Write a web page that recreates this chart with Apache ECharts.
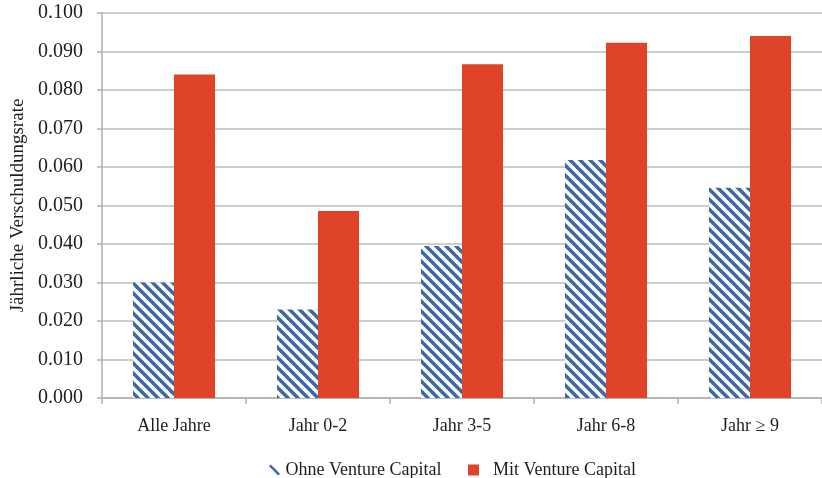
<!DOCTYPE html>
<html><head><meta charset="utf-8">
<script src="https://cdn.jsdelivr.net/npm/echarts@6/dist/echarts.min.js"></script>
<style>html,body{margin:0;padding:0;background:#fff}#c{width:822px;height:478px}</style>
</head><body><div id="c"></div>
<script>
const categories = ['Alle Jahre', 'Jahr 0-2', 'Jahr 3-5', 'Jahr 6-8', 'Jahr \u2265 9'];
const ohneVC = [0.030, 0.023, 0.0395, 0.0618, 0.0546];
const mitVC = [0.084, 0.0486, 0.0867, 0.0923, 0.0940];
const yTicks = [0, 0.1, 0.01];

const FONT = 'Liberation Serif';
const BLUE = '#3c68aa', RED = '#de4528';

function stripes() {
  const s = 10, c = document.createElement('canvas');
  c.width = s; c.height = s;
  const g = c.getContext('2d');
  g.fillStyle = '#fff'; g.fillRect(0, 0, s, s);
  g.strokeStyle = BLUE; g.lineWidth = 3.6; g.lineCap = 'square';
  for (const o of [-s, 0, s]) {
    g.beginPath(); g.moveTo(o, 0); g.lineTo(o + s, s); g.stroke();
  }
  return c;
}

const legendText = { fontFamily: FONT, fontSize: 18, color: '#1e1e1e' };
const chart = echarts.init(document.getElementById('c'));
chart.setOption({
  animation: false,
  grid: { left: 102, right: 0, top: 13, bottom: 80, outerBoundsMode: 'none', containLabel: false },
  legend: [
    {
      top: 456, left: 264, itemWidth: 12, itemHeight: 11,
      textStyle: legendText,
      data: [{ name: 'Ohne Venture Capital', icon: 'path://M0,1.6 L1.6,0 L10,8.4 L8.4,10 Z', itemStyle: { color: BLUE } }]
    },
    {
      top: 456, left: 463, itemWidth: 11, itemHeight: 11,
      textStyle: Object.assign({ padding: [0, 0, 0, 9] }, legendText),
      data: [{ name: 'Mit Venture Capital', icon: 'rect', itemStyle: { color: RED } }]
    }
  ],
  xAxis: {
    type: 'category', data: categories,
    axisLine: { lineStyle: { color: '#b0b0b0', width: 1.5 } },
    axisTick: { show: true, length: 6, lineStyle: { color: '#b0b0b0', width: 1.5 } },
    axisLabel: { fontFamily: FONT, fontSize: 18, color: '#1e1e1e', margin: 19 }
  },
  yAxis: {
    type: 'value', min: yTicks[0], max: yTicks[1], interval: yTicks[2],
    name: 'Jährliche Verschuldungsrate', nameLocation: 'middle', nameGap: 72, nameRotate: 90,
    nameTextStyle: { fontFamily: FONT, fontSize: 19, color: '#1e1e1e' },
    axisLine: { show: true, lineStyle: { color: '#b0b0b0', width: 1.5 } },
    axisTick: { show: true, length: 5, lineStyle: { color: '#b0b0b0', width: 1.5 } },
    splitLine: { lineStyle: { color: '#bdbdbd', width: 1.5 } },
    axisLabel: { fontFamily: FONT, fontSize: 20, color: '#1e1e1e', margin: 19, formatter: v => v.toFixed(3) }
  },
  series: [
    { name: 'Ohne Venture Capital', type: 'bar', data: ohneVC, barGap: '0%', barCategoryGap: '43%',
      itemStyle: { color: { image: stripes(), repeat: 'repeat' } } },
    { name: 'Mit Venture Capital', type: 'bar', data: mitVC, barGap: '0%', barCategoryGap: '43%',
      itemStyle: { color: RED } }
  ]
});
</script></body></html>
